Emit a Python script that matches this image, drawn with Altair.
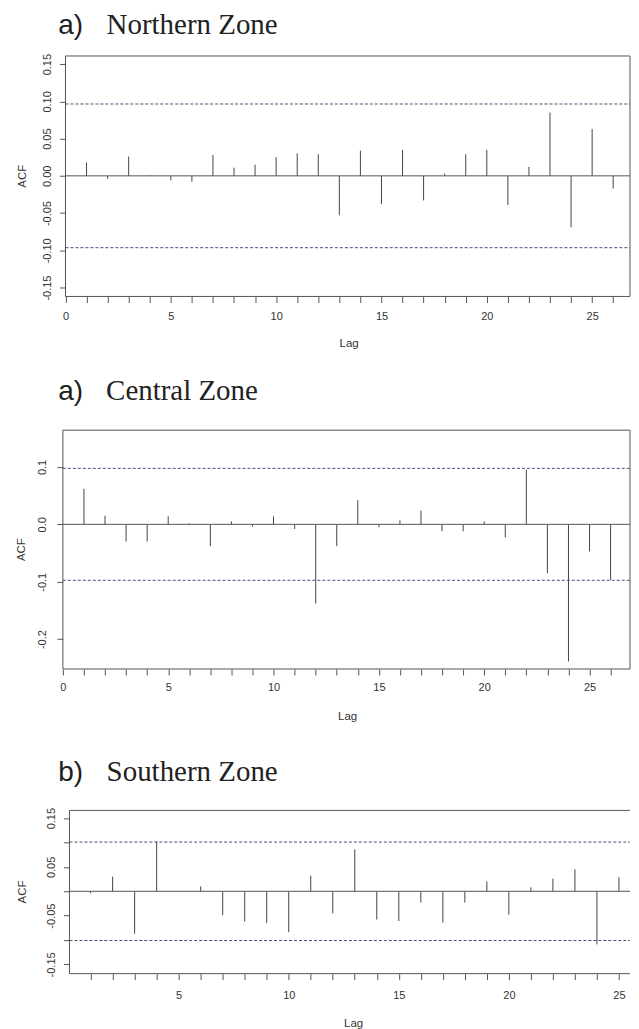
import altair as alt
import pandas as pd

# ---------------- data ----------------
lags_n = list(range(1, 27))
acf_n = [0.018, -0.004, 0.026, 0.001, -0.006, -0.008, 0.028, 0.011, 0.015, 0.025,
         0.030, 0.029, -0.053, 0.034, -0.038, 0.035, -0.033, 0.003, 0.029, 0.035,
         -0.039, 0.012, 0.085, -0.069, 0.063, -0.017]
ci_n = 0.0965

lags_c = list(range(1, 27))
acf_c = [0.062, 0.015, -0.030, -0.030, 0.014, 0.002, -0.038, 0.005, -0.004, 0.014,
         -0.008, -0.138, -0.038, 0.042, -0.005, 0.007, 0.024, -0.012, -0.012, 0.005,
         -0.023, 0.095, -0.085, -0.239, -0.047, -0.097]
ci_c = 0.0975

lags_s = list(range(1, 26))
acf_s = [-0.004, 0.030, -0.087, 0.103, -0.001, 0.010, -0.049, -0.062, -0.065, -0.084,
         0.032, -0.045, 0.086, -0.058, -0.061, -0.023, -0.064, -0.023, 0.020, -0.048,
         0.008, 0.026, 0.045, -0.109, 0.029]
ci_s = 0.101

prefixes = ["a)", "a)", "b)"]
names = ["Northern Zone", "Central Zone", "Southern Zone"]

yticks_n = [-0.15, -0.10, -0.05, 0.0, 0.05, 0.10, 0.15]
yticks_c = [-0.2, -0.1, 0.0, 0.1]
yticks_s = [-0.15, -0.10, -0.05, 0.0, 0.05, 0.10, 0.15]

SANS = "Liberation Sans, Arial, sans-serif"
SERIF = "Liberation Serif, Times New Roman, serif"
TXT = "#333333"
LINE = "#444444"
FRAME = "#555555"
DASH = "#4a4a7a"

lab2 = "(datum.value < 0 ? '-' : '') + format(abs(datum.value), '.2f')"
lab1 = "(datum.value < 0 ? '-' : '') + format(abs(datum.value), '.1f')"
lab_s = ("(abs(abs(datum.value) - 0.05) < 0.001 || abs(abs(datum.value) - 0.15) < 0.001) ? "
         "((datum.value < 0 ? '-' : '') + format(abs(datum.value), '.2f')) : ''")

PAD = 30                   # invisible margin, removed again by negative padding
LC = 61.7                  # common left edge of the plot groups (page px)
RIGHT = 630.0              # keep the whole svg inside the 623px page body


def panel(lags, acf, ci, ydom, yticks, ylab_expr, xdom, xticks, frame_x, W, H,
          top_ext, bot_ext, prefix, name, pre_dx, name_dx, title_dy,
          ylab_pad, yoff, xlab_pad, acf_x, lag_x, lag_y, closed=True):
    df = pd.DataFrame({"lag": lags, "acf": acf})
    one = pd.DataFrame({"k": [0]})
    yscale = alt.Scale(domain=ydom, nice=False, zero=False)
    xscale = alt.Scale(domain=xdom, nice=False, zero=False)
    yaxis = alt.Axis(values=yticks, title=None, grid=False, zindex=1,
                     domain=False, offset=yoff,
                     tickSize=6, tickColor=FRAME,
                     labelExpr=ylab_expr, labelAngle=270,
                     labelAlign="center", labelBaseline="alphabetic",
                     labelFont=SANS, labelFontSize=11, labelColor=TXT,
                     labelPadding=ylab_pad, labelFlush=False,
                     labelOverlap=False)
    xaxis = alt.Axis(values=xticks, title=None, grid=False, zindex=1,
                     domain=False,
                     tickSize=6, tickColor=FRAME,
                     labelExpr="datum.value % 5 == 0 ? datum.label : ''",
                     labelFont=SANS, labelFontSize=11, labelColor=TXT,
                     labelPadding=xlab_pad, labelBaseline="top",
                     labelFlush=False, labelOverlap=False)

    def X(f):
        return alt.X(f, scale=xscale, axis=xaxis)

    def Y(f):
        return alt.Y(f, scale=yscale, axis=yaxis)

    bg = alt.Chart(one).mark_rect(fill="white", strokeWidth=0).encode(
        x=alt.value(8 - LC - PAD), x2=alt.value(0),
        y=alt.value(-top_ext), y2=alt.value(bot_ext))

    x0, x1 = str(frame_x[0]), str(frame_x[1])

    zero = alt.Chart(pd.DataFrame({"v": [0.0]})).transform_calculate(
        x0=x0, x1=x1).mark_rule(color=FRAME, strokeWidth=1).encode(
        x=X("x0:Q"), x2="x1:Q", y=Y("v:Q"))

    dashed = alt.Chart(pd.DataFrame({"v": [ci, -ci]})).transform_calculate(
        x0=x0, x1=x1).mark_rule(color=DASH, strokeWidth=1, strokeDash=[3, 2]).encode(
        x=X("x0:Q"), x2="x1:Q", y=Y("v:Q"))

    spikes = alt.Chart(df).mark_rule(color=LINE, strokeWidth=1).encode(
        x=X("lag:Q"), y=Y("acf:Q"), y2=alt.datum(0))

    # frame: left side always, right side only when the panel is not cropped
    fx = pd.DataFrame({"x": [frame_x[0]] + ([frame_x[1]] if closed else [])})
    sides = alt.Chart(fx).mark_rule(color=FRAME, strokeWidth=1).encode(
        x=X("x:Q"), y=alt.value(0), y2=alt.value(H))
    top_l = alt.Chart(one).transform_calculate(x0=x0, x1=x1).mark_rule(
        color=FRAME, strokeWidth=1).encode(x=X("x0:Q"), x2="x1:Q", y=alt.value(0))
    bot_l = alt.Chart(one).transform_calculate(x0=x0, x1=x1).mark_rule(
        color=FRAME, strokeWidth=1).encode(x=X("x0:Q"), x2="x1:Q", y=alt.value(H))

    t_pre = alt.Chart(one).mark_text(
        text=prefix, font=SANS, fontSize=28, align="left", baseline="alphabetic",
        color="#222222").encode(x=alt.value(pre_dx), y=alt.value(title_dy))
    t_name = alt.Chart(one).mark_text(
        text=name, font=SERIF, fontSize=29, align="left", baseline="alphabetic",
        color="#222222").encode(x=alt.value(name_dx), y=alt.value(title_dy))
    t_acf = alt.Chart(one).mark_text(
        text="ACF", font=SANS, fontSize=11.5, angle=270, align="center",
        baseline="alphabetic", color=TXT).encode(
        x=alt.value(acf_x), y=alt.value(H / 2))
    t_lag = alt.Chart(one).mark_text(
        text="Lag", font=SANS, fontSize=11.5, align="center",
        baseline="alphabetic", color=TXT).encode(
        x=alt.value(lag_x), y=alt.value(lag_y))

    layers = [bg, spikes, zero, dashed, sides, top_l, bot_l, t_pre, t_name, t_acf, t_lag]
    return alt.layer(*layers).properties(width=W, height=H)


# page-coordinate geometry of each panel's plot area (integer tops: the grid
# layout rounds every extent up to whole pixels)
T1, H1 = 54, 241.0
T2, H2 = 427, 239.3
T3, H3 = 806, 163.6
PX1 = 21.11   # px per lag, top two panels
PX3 = 22.06   # px per lag, bottom panel

W = RIGHT - LC
x1start = -(64.3 - LC) / PX1
x1dom = [x1start, x1start + W / PX1]
x2start = -(61.7 - LC) / PX1
x2dom = [x2start, x2start + W / PX1]
x3start = 0.04 - (68.3 - LC) / PX3
x3dom = [x3start, x3start + W / PX3]

B12, B23 = 352, 728   # band boundaries (page px)

p1 = panel(lags_n, acf_n, ci_n, [-0.162, 0.161], yticks_n, lab2, x1dom,
           list(range(0, 27)), [0, x1dom[1]], W, H1,
           T1 - 8 + PAD, B12 - T1,
           prefixes[0], names[0], 58 - LC - 1, 106 - LC - 0.5, 31.7 - T1,
           9, -(64.3 - LC), 8, 25 - LC, 348.5 - LC, 346 - T1)
p2 = panel(lags_c, acf_c, ci_c, [-0.252, 0.164], yticks_c, lab1, x2dom,
           list(range(0, 27)), [0, x2dom[1]], W, H2,
           T2 - B12, B23 - T2,
           prefixes[1], names[1], 58 - LC - 1, 106 - LC - 1, 396.7 - T2,
           11, -(61.7 - LC), 7, 23.5 - LC, 347 - LC, 717.3 - T2)
p3 = panel(lags_s, acf_s, ci_s, [-0.169, 0.166], yticks_s, lab_s, x3dom,
           list(range(1, 26)), [0.04, x3dom[1]], W, H3,
           T3 - B23, 1028 - T3,
           prefixes[2], names[2], 59 - LC - 2, 107 - LC - 1.5, 776.7 - T3,
           9, -(68.3 - LC), 10, 25 - LC, 353 - LC, 1023 - T3, closed=False)

chart = alt.vconcat(p1, p2, p3, spacing=0).properties(
    padding={"left": -PAD, "top": -PAD, "right": 0, "bottom": 0}
).configure_view(stroke="transparent")

chart.save("out.html", embed_options={"renderer": "svg", "actions": False})
